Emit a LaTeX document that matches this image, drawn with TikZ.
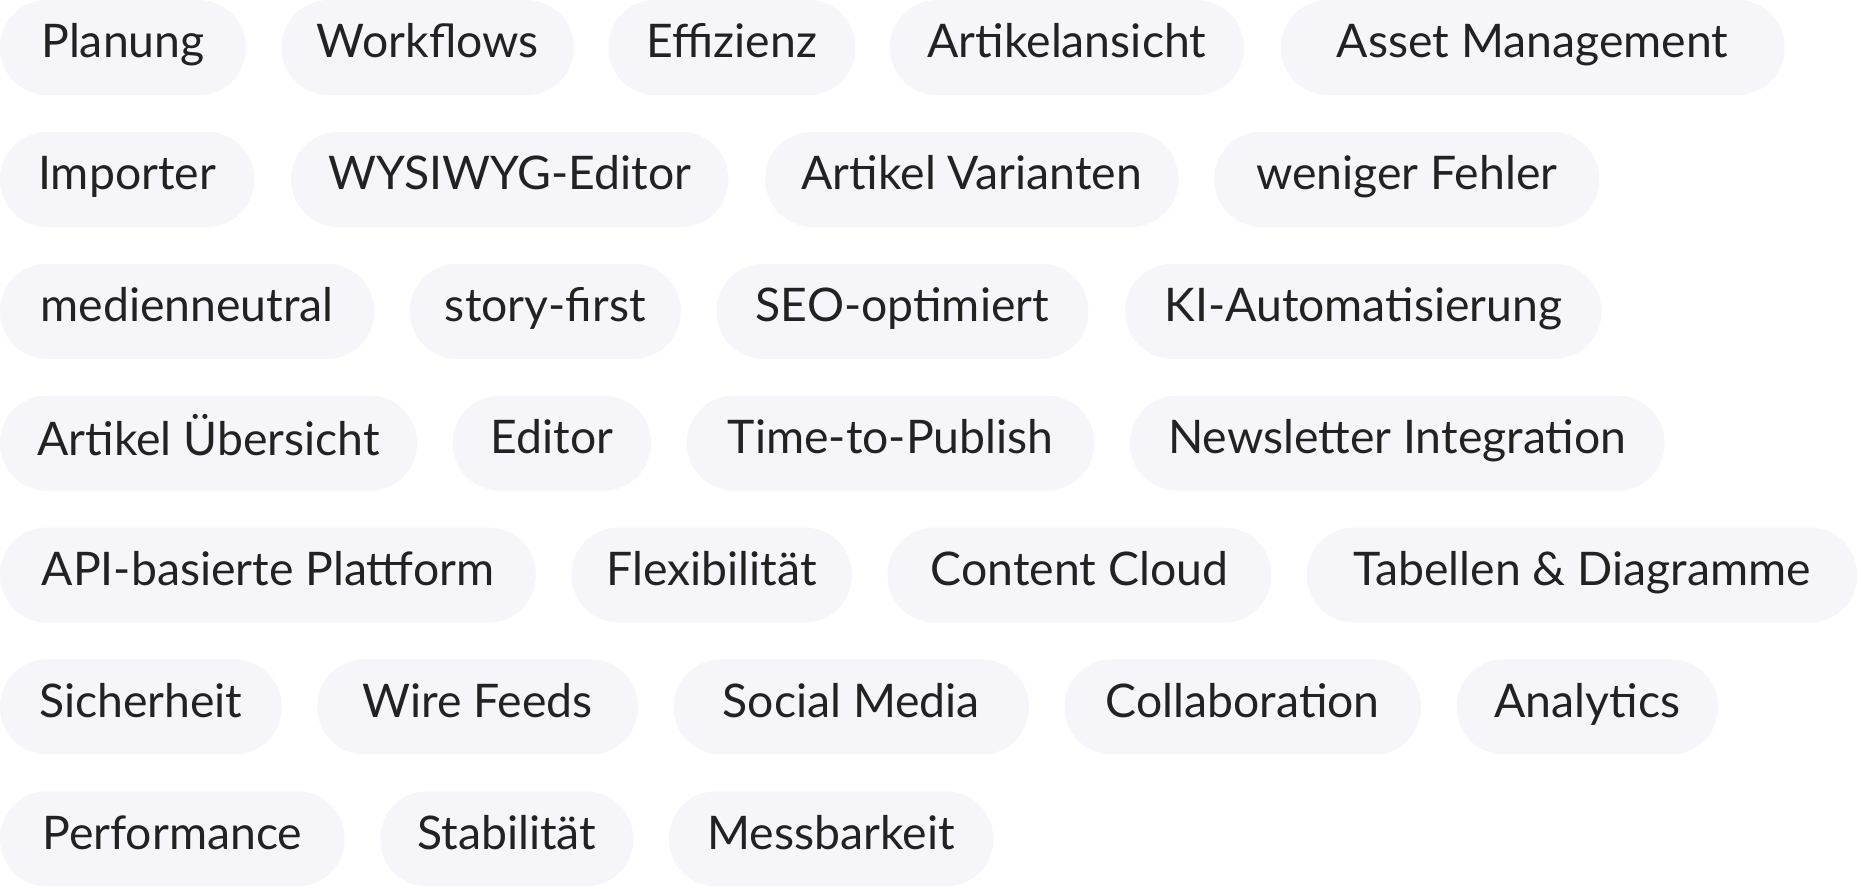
\documentclass[tikz,border=0pt]{standalone}
\usepackage{fontspec}
\setmainfont{Lato}
\definecolor{pillbg}{HTML}{F6F5FA}
\definecolor{pilltx}{HTML}{222222}
\begin{document}
\begin{tikzpicture}[x=1pt,y=-1pt,
  pillbox/.style={fill=pillbg,draw=none,rounded corners=39.5pt},
  pilltext/.style={text=pilltx,font=\fontsize{39}{44}\selectfont,inner sep=0pt}]
\useasboundingbox (0,0) rectangle (1568,748);
\newcommand{\mypill}[5]{%
  \fill[pillbox] (#2,#4-40) rectangle (#3,#4+40);
  \node[pilltext] (#1) at ({(#2+#3)/2},#4) {\strut #5};}
\mypill{a1}{0}{207}{40}{Planung}
\mypill{a2}{237}{483}{40}{Workflows}
\mypill{a3}{512}{720}{40}{Effizienz}
\mypill{a4}{749}{1047}{40}{Artikelansicht}
\mypill{a5}{1078}{1502}{40}{Asset Management}
\mypill{b1}{0}{214}{151}{Importer}
\mypill{b2}{245}{613}{151}{WYSIWYG-Editor}
\mypill{b3}{644}{992}{151}{Artikel Varianten}
\mypill{b4}{1022}{1346}{151}{weniger Fehler}
\mypill{c1}{0}{315}{262}{medienneutral}
\mypill{c2}{345}{573}{262}{story-first}
\mypill{c3}{603}{916}{262}{SEO-optimiert}
\mypill{c4}{947}{1348}{262}{KI-Automatisierung}
\mypill{d1}{0}{351}{373}{Artikel Übersicht}
\mypill{d2}{381}{548}{373}{Editor}
\mypill{d3}{578}{921}{373}{Time-to-Publish}
\mypill{d4}{951}{1401}{373}{Newsletter Integration}
\mypill{e1}{0}{451}{484}{API-basierte Plattform}
\mypill{e2}{481}{717}{484}{Flexibilität}
\mypill{e3}{747}{1070}{484}{Content Cloud}
\mypill{e4}{1100}{1563}{484}{Tabellen \& Diagramme}
\mypill{f1}{0}{237}{595}{Sicherheit}
\mypill{f2}{267}{537}{595}{Wire Feeds}
\mypill{f3}{567}{866}{595}{Social Media}
\mypill{f4}{896}{1196}{595}{Collaboration}
\mypill{f5}{1226}{1446}{595}{Analytics}
\mypill{g1}{0}{290}{706}{Performance}
\mypill{g2}{320}{533}{706}{Stabilität}
\mypill{g3}{563}{836}{706}{Messbarkeit}
\end{tikzpicture}
\end{document}
